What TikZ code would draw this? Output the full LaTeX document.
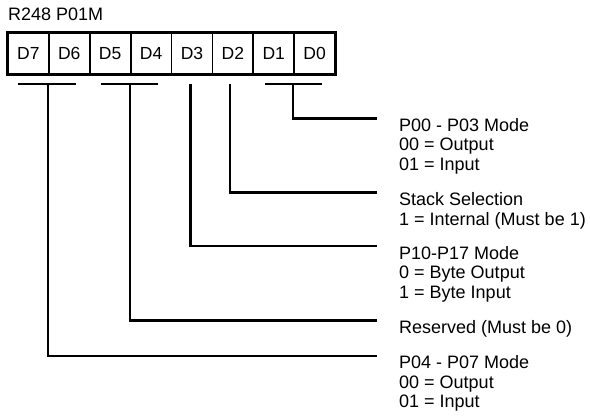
\documentclass[tikz,border=0pt]{standalone}
\usepackage{fontspec}
\setmainfont{Liberation Sans}
\begin{document}
\begin{tikzpicture}[x=1pt,y=-1pt,
  cell/.style={draw,line width=1.8pt,minimum width=40.9pt,minimum height=40.7pt,inner sep=0pt,anchor=north west,font=\fontsize{17.5}{19}\selectfont},
  lbl/.style={anchor=base west,inner sep=0pt,font=\fontsize{18}{19.5}\selectfont},
  conn/.style={line width=2.2pt}]
\useasboundingbox (0,0) rectangle (590,416);
\node[lbl] (title) at (8,20) {R248 P01M};
\foreach \i/\t in {0/D7,1/D6,2/D5,3/D4,4/D3,5/D2,6/D1,7/D0}{
  \node[cell] (c\i) at ({7+40.9*\i},32) {\t};
}
\draw[line width=2.4pt] (c0.north west) rectangle (c7.south east);
% bar coordinates
\coordinate (b76) at (47.9,84);
\coordinate (b54) at (129.6,84);
\coordinate (b3) at (190.5,84);
\coordinate (b2) at (230,84);
\coordinate (b10) at (293,84);
\draw[conn] ([xshift=-30pt]b76) -- ([xshift=28pt]b76);
\draw[conn] ([xshift=-29pt]b54) -- ([xshift=28pt]b54);
\draw[conn] ([xshift=-28pt]b10) -- ([xshift=29pt]b10);
% end coordinates
\coordinate (e10) at (377,118.5);
\coordinate (e2) at (377,192.5);
\coordinate (e3) at (377,246);
\coordinate (e54) at (377,320.5);
\coordinate (e76) at (377,356);
\draw[conn] (b10) |- (e10);
\draw[conn] (b2) |- (e2);
\draw[conn] (b3) |- (e3);
\draw[conn] (b54) |- (e54);
\draw[conn] (b76) |- (e76);
% labels
\node[lbl] (l10a) at (399,131) {P00 - P03 Mode};
\node[lbl] (l10b) at (399,150.5) {00 = Output};
\node[lbl] (l10c) at (399,170) {01 = Input};
\node[lbl] (l2a) at (399,205.5) {Stack Selection};
\node[lbl] (l2b) at (399,225) {1 = Internal (Must be 1)};
\node[lbl] (l3a) at (399,259) {P10-P17 Mode};
\node[lbl] (l3b) at (399,278.5) {0 = Byte Output};
\node[lbl] (l3c) at (399,298) {1 = Byte Input};
\node[lbl] (l54a) at (399,333.5) {Reserved (Must be 0)};
\node[lbl] (l76a) at (399,368.5) {P04 - P07 Mode};
\node[lbl] (l76b) at (399,388) {00 = Output};
\node[lbl] (l76c) at (399,407.5) {01 = Input};
\end{tikzpicture}
\end{document}
